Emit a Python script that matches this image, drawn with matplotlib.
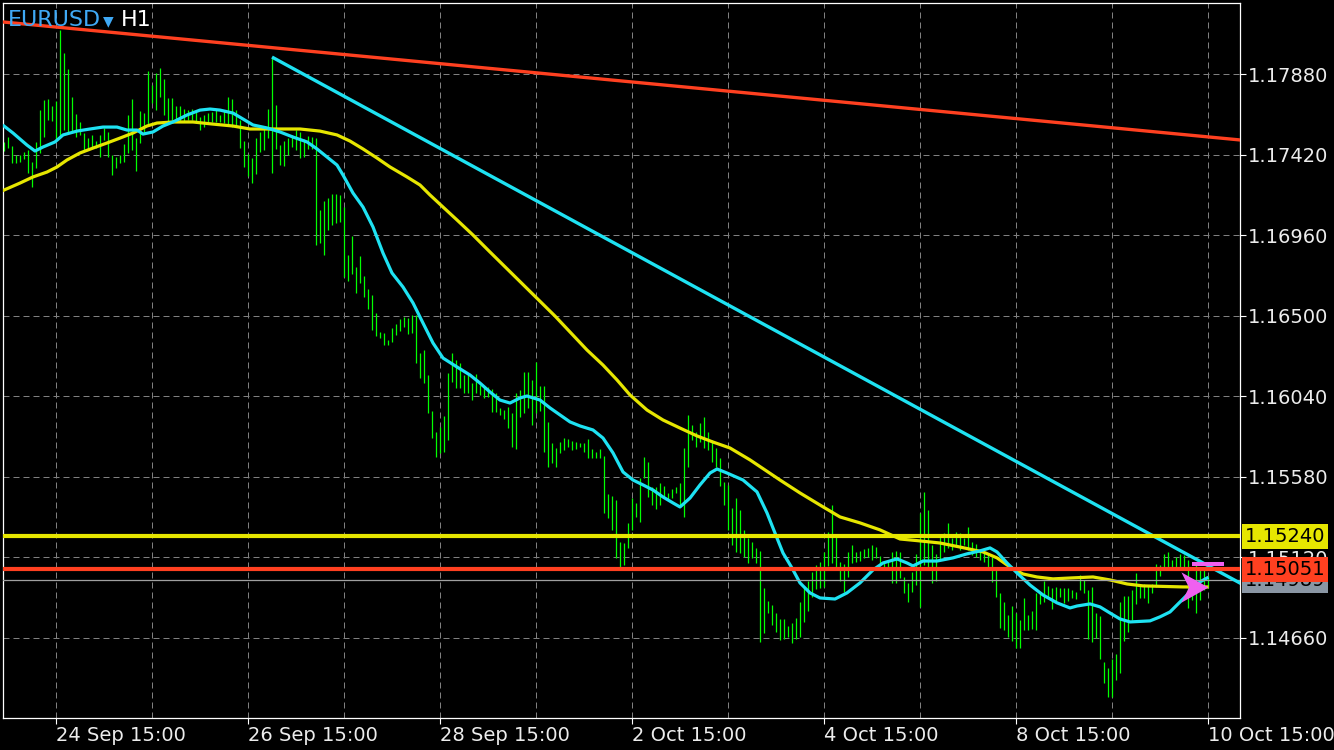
import numpy as np
import matplotlib.pyplot as plt
from matplotlib.path import Path

# EURUSD H1 bars (high / low), one per hour
high = [1.17494, 1.17522, 1.17471, 1.17419, 1.17419, 1.17436, 1.17448, 1.17379, 1.17494, 1.17676,
        1.17734, 1.17739, 1.17699, 1.17728, 1.18134, 1.18002, 1.17911, 1.17751, 1.17654, 1.17608,
        1.17545, 1.17516, 1.17534, 1.17499, 1.17534, 1.17574, 1.17551, 1.17419, 1.17408, 1.17419,
        1.17482, 1.17648, 1.17739, 1.17516, 1.17671, 1.17659, 1.17899, 1.17819, 1.17888, 1.17916,
        1.17854, 1.17745, 1.17745, 1.17699, 1.17699, 1.17682, 1.17676, 1.17682, 1.17665, 1.17636,
        1.17648, 1.17659, 1.17665, 1.17676, 1.17648, 1.17671, 1.17751, 1.17739, 1.17676, 1.17619,
        1.17499, 1.17425, 1.17402, 1.17516, 1.17551, 1.17568, 1.17682, 1.17979, 1.17705, 1.17476,
        1.17499, 1.17516, 1.17534, 1.17562, 1.17551, 1.17511, 1.17528, 1.17522, 1.17516, 1.17105,
        1.17156, 1.17174, 1.17196, 1.17196, 1.17191, 1.17122, 1.16848, 1.16956, 1.16779, 1.16842,
        1.16728, 1.16654, 1.16619, 1.16516, 1.16408, 1.16402, 1.16362, 1.16431, 1.16454, 1.16482,
        1.16494, 1.16488, 1.16505, 1.16505, 1.16288, 1.16305, 1.16162, 1.15956, 1.15837, 1.15865,
        1.15928, 1.16174, 1.16288, 1.16248, 1.16231, 1.16162, 1.16174, 1.16116, 1.16168, 1.16105,
        1.16094, 1.16094, 1.16082, 1.16059, 1.15974, 1.15962, 1.15979, 1.15945, 1.16059, 1.16077,
        1.16179, 1.16179, 1.16134, 1.16237, 1.16099, 1.16099, 1.15894, 1.15774, 1.15745, 1.15779,
        1.15802, 1.15797, 1.15785, 1.15779, 1.15774, 1.15774, 1.15797, 1.15739, 1.15722, 1.15739,
        1.15699, 1.15482, 1.15471, 1.15448, 1.15208, 1.15202, 1.15317, 1.15459, 1.15431, 1.15574,
        1.15694, 1.15665, 1.15522, 1.15522, 1.15545, 1.15528, 1.15488, 1.15511, 1.15522, 1.15545,
        1.15745, 1.15934, 1.15877, 1.15837, 1.15888, 1.15922, 1.15837, 1.15791, 1.15745, 1.15688,
        1.15551, 1.15534, 1.15402, 1.15459, 1.15391, 1.15277, 1.15231, 1.15208, 1.15174, 1.15157,
        1.14945, 1.14871, 1.14848, 1.14802, 1.14768, 1.14768, 1.14728, 1.14745, 1.14774, 1.14865,
        1.14957, 1.14985, 1.15037, 1.15077, 1.15094, 1.15151, 1.15265, 1.15419, 1.15237, 1.15094,
        1.15082, 1.15151, 1.15191, 1.15151, 1.15157, 1.15168, 1.15174, 1.15191, 1.15179, 1.15128,
        1.15099, 1.15105, 1.15151, 1.15157, 1.15151, 1.15008, 1.14974, 1.15037, 1.15140, 1.15374,
        1.15494, 1.15391, 1.15191, 1.15140, 1.15237, 1.15259, 1.15317, 1.15231, 1.15265, 1.15259,
        1.15231, 1.15294, 1.15208, 1.15197, 1.15162, 1.15151, 1.15145, 1.15122, 1.15065, 1.14917,
        1.14865, 1.14791, 1.14842, 1.14802, 1.14762, 1.14888, 1.14791, 1.14814, 1.14917, 1.14917,
        1.14985, 1.14957, 1.14945, 1.14951, 1.14945, 1.14945, 1.14945, 1.14934, 1.14922, 1.15020,
        1.14991, 1.14934, 1.14951, 1.14802, 1.14785, 1.14522, 1.14488, 1.14540, 1.14568, 1.14865,
        1.14900, 1.14900, 1.14934, 1.15031, 1.14968, 1.14968, 1.14957, 1.14968, 1.15082, 1.15077,
        1.15140, 1.15151, 1.15105, 1.15122, 1.15140, 1.15134, 1.15105, 1.14991, 1.15088, 1.15065,
        1.15065, 1.15014]
low = [1.17442, 1.17459, 1.17374, 1.17374, 1.17379, 1.17396, 1.17316, 1.17236, 1.17345, 1.17431,
       1.17522, 1.17619, 1.17614, 1.17511, 1.17516, 1.17562, 1.17545, 1.17556, 1.17522, 1.17534,
       1.17442, 1.17448, 1.17459, 1.17459, 1.17408, 1.17505, 1.17408, 1.17305, 1.17345, 1.17374,
       1.17379, 1.17431, 1.17448, 1.17328, 1.17488, 1.17551, 1.17591, 1.17716, 1.17676, 1.17751,
       1.17648, 1.17608, 1.17619, 1.17619, 1.17614, 1.17614, 1.17619, 1.17619, 1.17602, 1.17562,
       1.17579, 1.17608, 1.17608, 1.17608, 1.17608, 1.17602, 1.17596, 1.17579, 1.17579, 1.17459,
       1.17351, 1.17299, 1.17259, 1.17311, 1.17436, 1.17448, 1.17516, 1.17316, 1.17454, 1.17362,
       1.17356, 1.17419, 1.17465, 1.17448, 1.17402, 1.17408, 1.17454, 1.17454, 1.16905, 1.16916,
       1.16848, 1.16991, 1.17019, 1.17031, 1.17036, 1.16722, 1.16699, 1.16739, 1.16631, 1.16688,
       1.16608, 1.16539, 1.16419, 1.16385, 1.16374, 1.16334, 1.16334, 1.16351, 1.16391, 1.16414,
       1.16436, 1.16396, 1.16402, 1.16231, 1.16145, 1.16116, 1.15945, 1.15802, 1.15694, 1.15717,
       1.15722, 1.15791, 1.16122, 1.16088, 1.16088, 1.16059, 1.16059, 1.16019, 1.16059, 1.16048,
       1.16031, 1.16036, 1.15951, 1.15951, 1.15934, 1.15911, 1.15859, 1.15751, 1.15739, 1.15922,
       1.15945, 1.15974, 1.15877, 1.15945, 1.15956, 1.15722, 1.15637, 1.15659, 1.15637, 1.15717,
       1.15734, 1.15751, 1.15734, 1.15739, 1.15751, 1.15722, 1.15688, 1.15688, 1.15688, 1.15688,
       1.15374, 1.15345, 1.15277, 1.15117, 1.15065, 1.15077, 1.15174, 1.15277, 1.15351, 1.15322,
       1.15574, 1.15465, 1.15419, 1.15397, 1.15419, 1.15465, 1.15448, 1.15459, 1.15488, 1.15419,
       1.15351, 1.15637, 1.15791, 1.15751, 1.15779, 1.15745, 1.15734, 1.15665, 1.15637, 1.15528,
       1.15419, 1.15277, 1.15191, 1.15151, 1.15145, 1.15122, 1.15088, 1.15117, 1.15088, 1.14637,
       1.14688, 1.14802, 1.14734, 1.14694, 1.14648, 1.14654, 1.14665, 1.14631, 1.14654, 1.14665,
       1.14751, 1.14814, 1.14894, 1.14940, 1.14945, 1.14951, 1.15071, 1.15088, 1.15059, 1.14985,
       1.14922, 1.15008, 1.15088, 1.15094, 1.15099, 1.15117, 1.15122, 1.15105, 1.15117, 1.15071,
       1.15065, 1.15059, 1.14974, 1.14974, 1.15002, 1.14917, 1.14865, 1.14922, 1.14962, 1.14837,
       1.15077, 1.15059, 1.14974, 1.14985, 1.15105, 1.15151, 1.15174, 1.15162, 1.15191, 1.15162,
       1.15191, 1.15162, 1.15134, 1.15122, 1.15105, 1.15094, 1.15065, 1.14980, 1.14894, 1.14717,
       1.14705, 1.14665, 1.14642, 1.14602, 1.14602, 1.14705, 1.14705, 1.14711, 1.14705, 1.14854,
       1.14865, 1.14894, 1.14825, 1.14865, 1.14894, 1.14860, 1.14871, 1.14888, 1.14882, 1.14934,
       1.14917, 1.14654, 1.14637, 1.14660, 1.14540, 1.14402, 1.14322, 1.14322, 1.14420, 1.14460,
       1.14642, 1.14694, 1.14762, 1.14854, 1.14888, 1.14888, 1.14860, 1.14917, 1.14951, 1.15014,
       1.15065, 1.15065, 1.15065, 1.15065, 1.15059, 1.15059, 1.14831, 1.14877, 1.14802, 1.14877,
       1.14934, 1.14945]

# fast moving average (cyan), read at sample bars
fast_bar = [0, 2.25, 5.75, 7.75, 9.75, 12.75, 14.75, 18.25, 21.5, 24.75, 28.25, 30.75, 33.25, 34.75,
            37.25, 39.75, 42.25, 45.75, 49, 51.5, 54, 57.25, 59.75, 62.25, 65.75, 69, 72.25, 75.75,
            78.25, 80.75, 83.25, 84.75, 87.25, 89.75, 92.25, 94.75, 97, 99.75, 102.25, 104.75, 107.25,
            109.75, 113.25, 116.5, 119, 121.5, 124, 126.5, 129, 130.75, 134, 136.5, 139, 141.5, 144,
            147.25, 149.75, 152.25, 154.75, 157.25, 159.75, 162.25, 164.75, 167.25, 169, 171.5, 174,
            176.5, 178.25, 180.75, 184.75, 188.25, 190.75, 192.75, 194.75, 197, 199, 201.5, 204, 207.75,
            210.75, 214, 217.25, 219.75, 223.25, 225.75, 227.25, 229.75, 233.25, 237.25, 240.75, 244,
            246.5, 248.25, 250.75, 253.25, 256.5, 259.75, 263.25, 266.5, 268.25, 271.5, 274, 276.5,
            279, 281.5, 286.5, 289, 291.5, 294, 296.5, 299, 300.75]
fast_ma = [1.17585, 1.17545, 1.17476, 1.17442, 1.17465, 1.17494, 1.17534, 1.17556, 1.17568, 1.17579,
           1.17579, 1.17562, 1.17562, 1.17539, 1.17551, 1.17585, 1.17608, 1.17648, 1.17676, 1.17682,
           1.17676, 1.17659, 1.17625, 1.17591, 1.17574, 1.17551, 1.17522, 1.17494, 1.17454, 1.17408,
           1.17362, 1.17305, 1.17202, 1.17122, 1.17008, 1.16859, 1.16745, 1.16665, 1.16574, 1.16459,
           1.16345, 1.16259, 1.16208, 1.16162, 1.16116, 1.16065, 1.16019, 1.16002, 1.16031, 1.16042,
           1.16019, 1.15974, 1.15934, 1.15894, 1.15871, 1.15848, 1.15802, 1.15717, 1.15608, 1.15562,
           1.15534, 1.15505, 1.15465, 1.15431, 1.15408, 1.15459, 1.15534, 1.15602, 1.15625, 1.15602,
           1.15562, 1.15494, 1.15374, 1.15259, 1.15145, 1.15059, 1.14974, 1.14917, 1.14888, 1.14882,
           1.14917, 1.14974, 1.15048, 1.15088, 1.15111, 1.15088, 1.15071, 1.15099, 1.15099, 1.15117,
           1.15140, 1.15157, 1.15174, 1.15151, 1.15088, 1.15031, 1.14962, 1.14905, 1.14860, 1.14831,
           1.14842, 1.14854, 1.14837, 1.14802, 1.14768, 1.14751, 1.14757, 1.14780, 1.14808, 1.14865,
           1.14922, 1.14980, 1.15002]

# slow moving average (yellow)
slow_bar = [0, 4, 7.25, 10.75, 13.25, 15.75, 19, 22.25, 25.75, 29, 32.25, 35.75, 38.25, 42.25, 47.25,
            52.25, 57.25, 61.5, 69, 74, 79, 83.25, 86.5, 89.75, 93.25, 96.5, 100.75, 104, 106.5, 109.75,
            113.25, 117.25, 121.5, 137.75, 145.75, 149.75, 153.25, 156.5, 160.75, 164.75, 169, 173.25,
            177.25, 181.5, 186.5, 194, 199, 204, 209, 214, 219, 224, 229, 234, 239, 244.75, 248.25,
            251.5, 254.75, 258.25, 262.25, 266.5, 272.25, 276.5, 280.75, 284.75, 294.75, 300.75]
slow_ma = [1.17219, 1.17259, 1.17294, 1.17322, 1.17351, 1.17391, 1.17431, 1.17459, 1.17488, 1.17516,
           1.17545, 1.17585, 1.17602, 1.17608, 1.17608, 1.17596, 1.17585, 1.17568, 1.17568, 1.17568,
           1.17556, 1.17534, 1.17499, 1.17454, 1.17402, 1.17351, 1.17294, 1.17248, 1.17191, 1.17122,
           1.17048, 1.16962, 1.16865, 1.16499, 1.16305, 1.16219, 1.16134, 1.16048, 1.15962, 1.15905,
           1.15859, 1.15814, 1.15779, 1.15745, 1.15677, 1.15562, 1.15488, 1.15419, 1.15351, 1.15317,
           1.15277, 1.15225, 1.15214, 1.15202, 1.15179, 1.15151, 1.15117, 1.15065, 1.15025, 1.15008,
           1.14997, 1.15002, 1.15008, 1.14991, 1.14968, 1.14957, 1.14951, 1.14951]

label_bars = [13, 61, 109, 157, 205, 253, 301]
label_text = ['24 Sep 15:00', '26 Sep 15:00', '28 Sep 15:00', '2 Oct 15:00',
              '4 Oct 15:00', '8 Oct 15:00', '10 Oct 15:00']
grid_bars = list(range(13, 302, 24))
price_ticks = [1.14660, 1.15120, 1.15580, 1.16040, 1.16500, 1.16960, 1.17420, 1.17880]

yellow_level = 1.15240
red_level = 1.15051
bid = 1.14989
ask = 1.15082
red_tl_bar, red_tl = [0, 300], [1.18179, 1.17525]
cyan_tl_bar, cyan_tl = [67, 300], [1.17979, 1.15085]
arrow_bar, arrow_price = 301, 1.14951

CYAN = '#1ee2f2'
YELLOW = '#e6e600'
RED = '#ff4020'
PINK = '#f060f0'

fig = plt.figure(figsize=(13.34, 7.5), dpi=100, facecolor='black')
ax = fig.add_axes([3 / 1334, 32 / 750, 1237 / 1334, 715 / 750])
ax.set_facecolor('black')
ax.set_xlim(-0.25, 309)
ax.set_ylim(1.14202, 1.18288)

# grid
ax.set_xticks(label_bars)
ax.set_xticklabels(label_text)
ax.set_xticks(grid_bars, minor=True)
ax.set_yticks(price_ticks)
ax.set_yticklabels([f'{p:.5f}' for p in price_ticks])
ax.grid(True, which='both', axis='x', color='#808080', lw=0.72, ls=(0, (6, 4)))
ax.grid(True, which='major', axis='y', color='#808080', lw=0.72, ls=(0, (6, 4)))
ax.set_axisbelow(True)

ax.yaxis.tick_right()
ax.tick_params(axis='both', which='major', colors='white', length=4, width=0.8,
               labelsize=14, pad=2, labelcolor='#ececec')
ax.tick_params(axis='x', which='minor', length=0)
for lbl in ax.get_xticklabels():
    lbl.set_horizontalalignment('left')
for s in ax.spines.values():
    s.set_color('white')
    s.set_linewidth(0.9)

# bars
bars = np.arange(len(high))
ax.vlines(bars, low, high, color='#00ff00', lw=0.9, zorder=2)

# moving averages
ax.plot(slow_bar, slow_ma, color=YELLOW, lw=2.3, zorder=3)
ax.plot(fast_bar, fast_ma, color=CYAN, lw=2.3, zorder=3)

# trendlines
ax.axline((red_tl_bar[0], red_tl[0]), (red_tl_bar[1], red_tl[1]), color=RED, lw=2.4, zorder=4)
slope = (cyan_tl[1] - cyan_tl[0]) / (cyan_tl_bar[1] - cyan_tl_bar[0])
x_end = 310
ax.plot([cyan_tl_bar[0], x_end], [cyan_tl[0], cyan_tl[0] + slope * (x_end - cyan_tl_bar[0])],
        color=CYAN, lw=2.4, zorder=4, solid_capstyle='butt')

# horizontal levels
ax.axhline(bid, color='#a0a0a0', lw=0.9, zorder=3)
ax.axhline(yellow_level, color=YELLOW, lw=3, zorder=5)
ax.axhline(red_level, color=RED, lw=3, zorder=5)
ax.hlines(ask, 297, 305, color=PINK, lw=2.9, zorder=6)

# arrow object
arrow = Path([(0, 0), (-1, 0.56), (-0.72, 0), (-1, -0.56), (0, 0)],
             [Path.MOVETO, Path.LINETO, Path.LINETO, Path.LINETO, Path.CLOSEPOLY])
ax.plot([arrow_bar], [arrow_price], marker=arrow, markersize=39, color=PINK, mec='none',
        ls='none', zorder=7)


# price boxes on the right scale
def price_box(price, fc, z):
    ax.annotate(f'{price:.5f}', xy=(1, price), xycoords=('axes fraction', 'data'),
                xytext=(3.5, 0), textcoords='offset points', va='center', ha='left',
                fontsize=14, color='black', annotation_clip=False, zorder=z,
                bbox=dict(boxstyle='square,pad=0.14', fc=fc, ec='none'))


price_box(bid, '#8a96a4', 10)
price_box(red_level, RED, 11)
price_box(yellow_level, YELLOW, 12)

# symbol title
fig.text(8 / 1334, 1 - 20 / 750, 'EURUSD', color='#3fa9f5', fontsize=16, va='center', ha='left')
fig.text(103 / 1334, 1 - 21 / 750, '▼', color='#3fa9f5', fontsize=10, va='center', ha='left')
fig.text(121 / 1334, 1 - 20 / 750, 'H1', color='white', fontsize=16, va='center', ha='left')

fig.savefig('out.png', dpi=100, facecolor='black')
